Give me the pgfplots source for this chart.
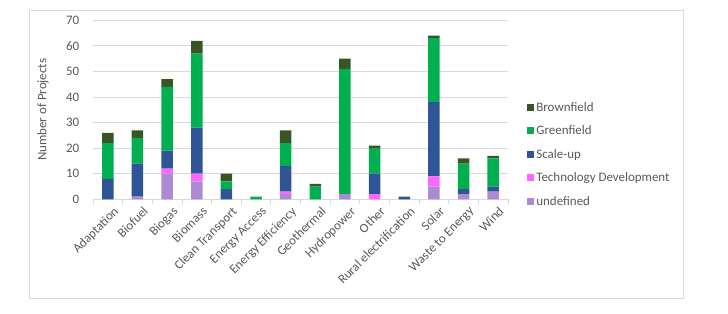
\documentclass[border=0pt]{standalone}
\usepackage{pgfplots}
\pgfplotsset{compat=1.18}
\usepackage{fontspec}
\setmainfont{Carlito}
\definecolor{cBrown}{HTML}{375623}
\definecolor{cGreen}{HTML}{00B050}
\definecolor{cScale}{HTML}{2F5597}
\definecolor{cTech}{HTML}{FF66FF}
\definecolor{cUndef}{HTML}{AD8BD4}
\definecolor{gridc}{HTML}{D9D9D9}
\definecolor{textc}{HTML}{595959}
\newcommand{\chartfont}{\fontsize{13}{15}\selectfont}
\begin{document}
\begin{tikzpicture}[x=1bp,y=1bp]
\path[use as bounding box] (0,0) rectangle (728,313);
\draw[gridc, line width=0.8bp] (29,15) rectangle (683,303);
\begin{axis}[
  at={(93bp,113.7bp)}, anchor=south west,
  scale only axis, width=415bp, height=179bp,
  ybar stacked, bar width=11.5bp,
  xmin=-0.5, xmax=13.5, ymin=0, ymax=70,
  ytick={0,10,...,70},
  ymajorgrids, grid style={gridc, line width=0.8bp},
  axis lines*=left,
  x axis line style={gridc, line width=0.8bp},
  y axis line style={draw=none},
  xtick={0,...,13},
  xticklabels={Adaptation,Biofuel,Biogas,Biomass,Clean Transport,Energy Access,Energy Efficiency,Geothermal,Hydropower,Other,Rural electrification,Solar,Waste to Energy,Wind},
  major x tick style={draw=none},
  minor xtick={-0.5,0.5,...,13.5},
  minor tick length=5bp,
  tick align=outside,
  minor x tick style={gridc, line width=0.8bp},
  ytick style={draw=none},
  yticklabel style={font=\chartfont, text=textc, xshift=-6bp},
  xticklabel style={font=\chartfont, text=textc, rotate=45, anchor=north east, inner sep=1bp, xshift=3bp, yshift=-4bp},
  /pgf/number format/assume math mode=true,
  ylabel={Number of Projects},
  ylabel style={font=\chartfont, text=textc, at={(axis description cs:-0.1205,0.5)}, anchor=center, rotate=0},
  legend style={at={(axis description cs:1.045,0.555)}, anchor=north west, draw=none, fill=none, font=\chartfont, text=textc, row sep=9bp, inner sep=0pt},
  legend cell align=left,
  reverse legend,
  every axis plot/.append style={draw=none},
  legend image code/.code={\fill[#1] (0bp,-3.5bp) rectangle (7.5bp,3.5bp);},
]
\addplot[fill=cUndef, draw=none] coordinates {(0,0) (1,1) (2,10) (3,7) (4,0) (5,0) (6,2) (7,0) (8,2) (9,0) (10,0) (11,5) (12,2) (13,3)};
\addplot[fill=cTech, draw=none] coordinates {(0,0) (1,0) (2,2) (3,3) (4,0) (5,0) (6,1) (7,0) (8,0) (9,2) (10,0) (11,4) (12,0) (13,0)};
\addplot[fill=cScale, draw=none] coordinates {(0,8) (1,13) (2,7) (3,18) (4,4) (5,0) (6,10) (7,0) (8,0) (9,8) (10,1) (11,29) (12,2) (13,2)};
\addplot[fill=cGreen, draw=none] coordinates {(0,14) (1,10) (2,25) (3,29) (4,3) (5,1) (6,9) (7,5) (8,49) (9,10) (10,0) (11,25) (12,10) (13,11)};
\addplot[fill=cBrown, draw=none] coordinates {(0,4) (1,3) (2,3) (3,5) (4,3) (5,0) (6,5) (7,1) (8,4) (9,1) (10,0) (11,1) (12,2) (13,1)};
\legend{undefined, Technology Development, Scale-up, Greenfield, Brownfield}
\end{axis}
\end{tikzpicture}
\end{document}
